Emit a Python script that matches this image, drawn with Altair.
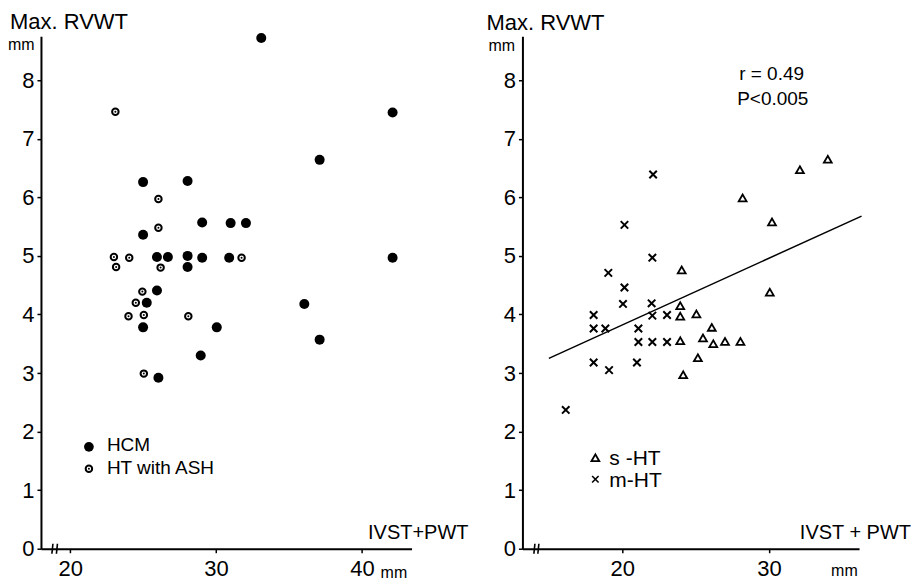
import altair as alt
import pandas as pd

FONT = "Liberation Sans"

# ---------------- Left panel: HCM vs HT with ASH ----------------
hcm_x = [33.1, 42.1, 37.1, 25.0, 28.05, 29.05, 31.0, 32.05, 25.0, 25.95, 26.7, 28.05,
         29.05, 30.9, 42.1, 28.05, 25.95, 25.25, 25.0, 30.05, 36.05, 37.1, 28.95, 26.05]
hcm_y = [8.72, 7.45, 6.64, 6.26, 6.28, 5.57, 5.56, 5.56, 5.36, 4.98, 4.98, 5.0,
         4.97, 4.97, 4.97, 4.81, 4.41, 4.20, 3.78, 3.78, 4.18, 3.57, 3.30, 2.92]

ash_x = [23.1, 26.05, 26.05, 23.0, 24.05, 31.75, 23.15, 26.2, 24.95, 24.5, 24.0, 25.05, 28.1, 25.05]
ash_y = [7.46, 5.97, 5.48, 4.98, 4.97, 4.97, 4.81, 4.80, 4.39, 4.20, 3.97, 3.99, 3.97, 2.99]

# ---------------- Right panel: s-HT vs m-HT ----------------
sht_x = [34.0, 32.1, 28.2, 30.2, 24.05, 30.05, 23.95, 23.95, 25.05, 26.1, 23.95, 25.5,
         26.2, 27.0, 28.05, 25.15, 24.15]
sht_y = [6.65, 6.47, 5.99, 5.58, 4.76, 4.38, 4.15, 3.97, 4.01, 3.78, 3.55, 3.60,
         3.50, 3.54, 3.54, 3.26, 2.97]

mht_x = [22.1, 20.15, 22.05, 19.05, 20.15, 20.05, 22.0, 18.05, 22.05, 23.05, 18.05, 18.85,
         21.1, 21.1, 22.05, 23.05, 18.05, 19.1, 21.0, 16.15]
mht_y = [6.39, 5.53, 4.97, 4.71, 4.46, 4.18, 4.19, 3.99, 3.98, 3.99, 3.76, 3.76,
         3.76, 3.53, 3.53, 3.53, 3.18, 3.05, 3.18, 2.37]

# regression line endpoints
reg_x = [15.0, 36.3]
reg_y = [3.25, 5.68]

# axis tick values
left_xticks = [20, 30, 40]
right_xticks = [20, 30]
yticks = [0, 1, 2, 3, 4, 5, 6, 7, 8]

# axis-break marks on the x axes
left_break_x = [18.75, 19.06]
right_break_x = [13.98, 14.25]

LW, RW, H = 371, 337, 513
one = pd.DataFrame({"k": [0]})

df_hcm = pd.DataFrame({"x": hcm_x, "y": hcm_y})
df_ash = pd.DataFrame({"x": ash_x, "y": ash_y})
df_sht = pd.DataFrame({"x": sht_x, "y": sht_y})
df_mht = pd.DataFrame({"x": mht_x, "y": mht_y})
df_reg = pd.DataFrame({"x": reg_x, "y": reg_y})


def xenc(domain, ticks, field="x"):
    return alt.X(f"{field}:Q", scale=alt.Scale(domain=domain, nice=False, zero=False),
                 axis=alt.Axis(values=ticks, title=None, grid=False, labelFlush=False))


def yenc(field="y"):
    return alt.Y(f"{field}:Q", scale=alt.Scale(domain=[0, 8.75], nice=False, zero=False),
                 axis=alt.Axis(values=yticks, title=None, grid=False, labelFlush=False))


def text(t, x, y, size, align="left", baseline="alphabetic"):
    return alt.Chart(one).mark_text(text=t, font=FONT, fontSize=size, align=align,
                                    baseline=baseline, color="black").encode(
        x=alt.value(x), y=alt.value(y))


def breaks(xs, domain, ticks):
    d = pd.DataFrame({"bx": xs, "bx2": [v + 0.07 for v in xs]})
    return alt.Chart(d).mark_rule(color="black", strokeWidth=1.6).encode(
        x=xenc(domain, ticks, "bx"), x2="bx2:Q",
        y=alt.value(H + 5), y2=alt.value(H - 5))


LDOM = [18.0, 43.4]
RDOM = [13.2, 36.13]

# ---- left panel layers
l_hcm = alt.Chart(df_hcm).mark_point(shape="circle", filled=True, color="black",
                                      size=100, opacity=1).encode(
    x=xenc(LDOM, left_xticks), y=yenc())
l_ash_ring = alt.Chart(df_ash).mark_point(shape="circle", filled=False, color="black",
                                           size=42, strokeWidth=2, opacity=1).encode(
    x=xenc(LDOM, left_xticks), y=yenc())
l_ash_dot = alt.Chart(df_ash).mark_point(shape="circle", filled=True, color="black",
                                          size=4, opacity=1).encode(
    x=xenc(LDOM, left_xticks), y=yenc())

l_leg1 = alt.Chart(one).mark_point(shape="circle", filled=True, color="black",
                                   size=95, opacity=1).encode(x=alt.value(48), y=alt.value(411))
l_leg2 = alt.Chart(one).mark_point(shape="circle", filled=False, color="black",
                                   size=42, strokeWidth=2, opacity=1).encode(x=alt.value(48), y=alt.value(433))
l_leg3 = alt.Chart(one).mark_point(shape="circle", filled=True, color="black",
                                   size=4, opacity=1).encode(x=alt.value(48), y=alt.value(433))

left = alt.layer(
    l_hcm, l_ash_ring, l_ash_dot,
    breaks(left_break_x, LDOM, left_xticks),
    l_leg1, l_leg2, l_leg3,
    text("HCM", 66, 409, 19, baseline="middle"),
    text("HT with ASH", 66, 432, 19, baseline="middle"),
    text("Max. RVWT", -31, -7, 22),
    text("mm", -33, 13.5, 16),
    text("IVST+PWT", 428, 503.5, 20, align="right"),
    text("mm", 340, 542, 16),
).properties(width=LW, height=H)

# ---- right panel layers
r_reg = alt.Chart(df_reg).mark_line(color="black", strokeWidth=1.5).encode(
    x=xenc(RDOM, right_xticks), y=yenc())
r_sht = alt.Chart(df_sht).mark_point(shape="triangle-up", filled=False, color="black",
                                      size=62, strokeWidth=1.8, opacity=1).encode(
    x=xenc(RDOM, right_xticks), y=yenc())
XSHAPE = "M-1,-1L1,1M1,-1L-1,1"
r_mht = alt.Chart(df_mht).mark_point(shape=XSHAPE, filled=False, color="black",
                                      size=56, strokeWidth=2, opacity=1).encode(
    x=xenc(RDOM, right_xticks), y=yenc())

r_leg1 = alt.Chart(one).mark_point(shape="triangle-up", filled=False, color="black",
                                   size=62, strokeWidth=1.8, opacity=1).encode(x=alt.value(73), y=alt.value(422))
r_leg2 = alt.Chart(one).mark_point(shape=XSHAPE, filled=False, color="black",
                                   size=42, strokeWidth=1.6, opacity=1).encode(x=alt.value(73), y=alt.value(443.5))

right = alt.layer(
    r_reg, r_sht, r_mht,
    breaks(right_break_x, RDOM, right_xticks),
    r_leg1, r_leg2,
    text("s -HT", 87, 423, 21, baseline="middle"),
    text("m-HT", 87, 445, 21, baseline="middle"),
    text("r = 0.49", 217, 43.5, 19),
    text("P<0.005", 215, 68.5, 19),
    text("Max. RVWT", -36, -6.6, 22),
    text("mm", -34, 14.5, 16),
    text("IVST + PWT", 389, 503.5, 20, align="right"),
    text("mm", 309, 540, 16),
).properties(width=RW, height=H)

chart = alt.hconcat(left, right, spacing=111, bounds="flush").properties(
    padding={"left": 0, "top": 3, "right": 0, "bottom": 0}
).configure_view(stroke=None).configure_axis(
    domainColor="black", domainWidth=2, tickColor="black", tickWidth=1.5, tickSize=4,
    labelFont=FONT, labelFontSize=22, labelColor="black", labelPadding=3,
).configure_axisX(labelPadding=6)

chart.save("out.html", embed_options={"renderer": "svg", "actions": False})
